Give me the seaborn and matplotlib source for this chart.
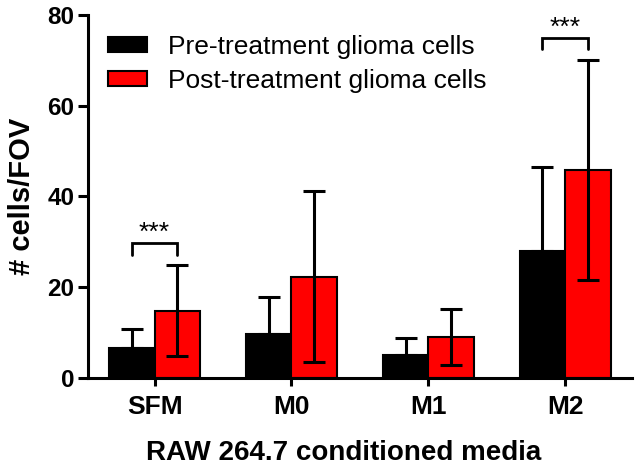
import pandas as pd
import matplotlib
matplotlib.use("Agg")
import matplotlib.pyplot as plt
import seaborn as sns
from matplotlib.patches import Patch


# =========================================
# Data
# =========================================

media = ["SFM", "M0", "M1", "M2"]

pre_mean = [6.7, 9.8, 5.1, 28.0]
pre_err = [4.0, 8.0, 3.7, 18.6]

post_mean = [14.8, 22.3, 9.0, 45.8]
post_err = [10.0, 18.8, 6.2, 24.3]

groups = ["Pre-treatment glioma cells", "Post-treatment glioma cells"]
colors = ["#000000", "#ff0000"]

# significance brackets: (category index, bracket height, label)
sig_pairs = [(0, 29.7, "***"), (3, 74.9, "***")]

y_ticks = [0, 20, 40, 60, 80]


df = pd.DataFrame({
    "media": media * 2,
    "value": pre_mean + post_mean,
    "group": [groups[0]] * len(media) + [groups[1]] * len(media)
})


# =========================================
# Plot
# =========================================

sns.set_style("ticks")
plt.rcParams["font.family"] = ["Liberation Sans", "DejaVu Sans"]
for key in ["text.color", "axes.labelcolor", "xtick.color",
            "ytick.color", "axes.edgecolor"]:
    plt.rcParams[key] = "black"

fig = plt.figure(figsize=(6.38, 4.74), dpi=100)
ax = fig.add_axes([0.138, 0.2025, 0.853, 0.766])

sns.barplot(
    data=df,
    x="media",
    y="value",
    hue="group",
    palette=colors,
    saturation=1,
    width=2 / 3,
    gap=0,
    errorbar=None,
    edgecolor="black",
    linewidth=1.5,
    legend=False,
    ax=ax
)

bar_sets = [list(cont) for cont in ax.containers[:2]]
centers = [[b.get_x() + b.get_width() / 2 for b in bars] for bars in bar_sets]
heights = [[b.get_height() for b in bars] for bars in bar_sets]

# error bars on top of each bar
for xs, ys, errs, lower in zip(centers, heights, [pre_err, post_err], [False, True]):
    low = errs if lower else [0] * len(errs)
    ax.errorbar(
        xs, ys,
        yerr=[low, errs],
        fmt="none",
        ecolor="black",
        elinewidth=2.2,
        capsize=8,
        capthick=2.2,
        zorder=5
    )

# significance brackets
for idx, h, label in sig_pairs:
    x0 = centers[0][idx]
    x1 = centers[1][idx]
    ax.plot(
        [x0, x0, x1, x1],
        [h - 2.5, h, h, h - 2.5],
        color="black",
        lw=2,
        solid_joinstyle="miter",
        clip_on=False
    )
    ax.text(
        (x0 + x1) / 2, h - 0.3, label,
        ha="center", va="bottom",
        fontsize=19
    )

ax.set_xlim(-0.486, 3.49)
ax.set_ylim(0, 80)
ax.set_yticks(y_ticks)

ax.set_xlabel("RAW 264.7 conditioned media", fontsize=20, fontweight="bold")
ax.xaxis.set_label_coords(0.469, -0.17)
ax.set_ylabel("# cells/FOV", fontsize=21, fontweight="bold", labelpad=8)

ax.tick_params(axis="x", labelsize=19, width=2.2, length=6, pad=6)
ax.tick_params(axis="y", labelsize=17.5, width=2.2, length=7, pad=3)
for lab in ax.get_xticklabels() + ax.get_yticklabels():
    lab.set_fontweight("bold")

sns.despine(ax=ax)
for side in ["left", "bottom"]:
    ax.spines[side].set_linewidth(2.2)

handles = [
    Patch(facecolor=c, edgecolor="black", linewidth=1.5) for c in colors
]
ax.legend(
    handles, groups,
    loc="upper left",
    bbox_to_anchor=(108 / 638, 1 - 35 / 474),
    bbox_transform=fig.transFigure,
    frameon=False,
    fontsize=19,
    handlelength=1.48,
    handleheight=0.5,
    handletextpad=0.8,
    labelspacing=0.38,
    borderpad=0,
    borderaxespad=0
)

fig.savefig("out.png", dpi=100)
plt.close(fig)
